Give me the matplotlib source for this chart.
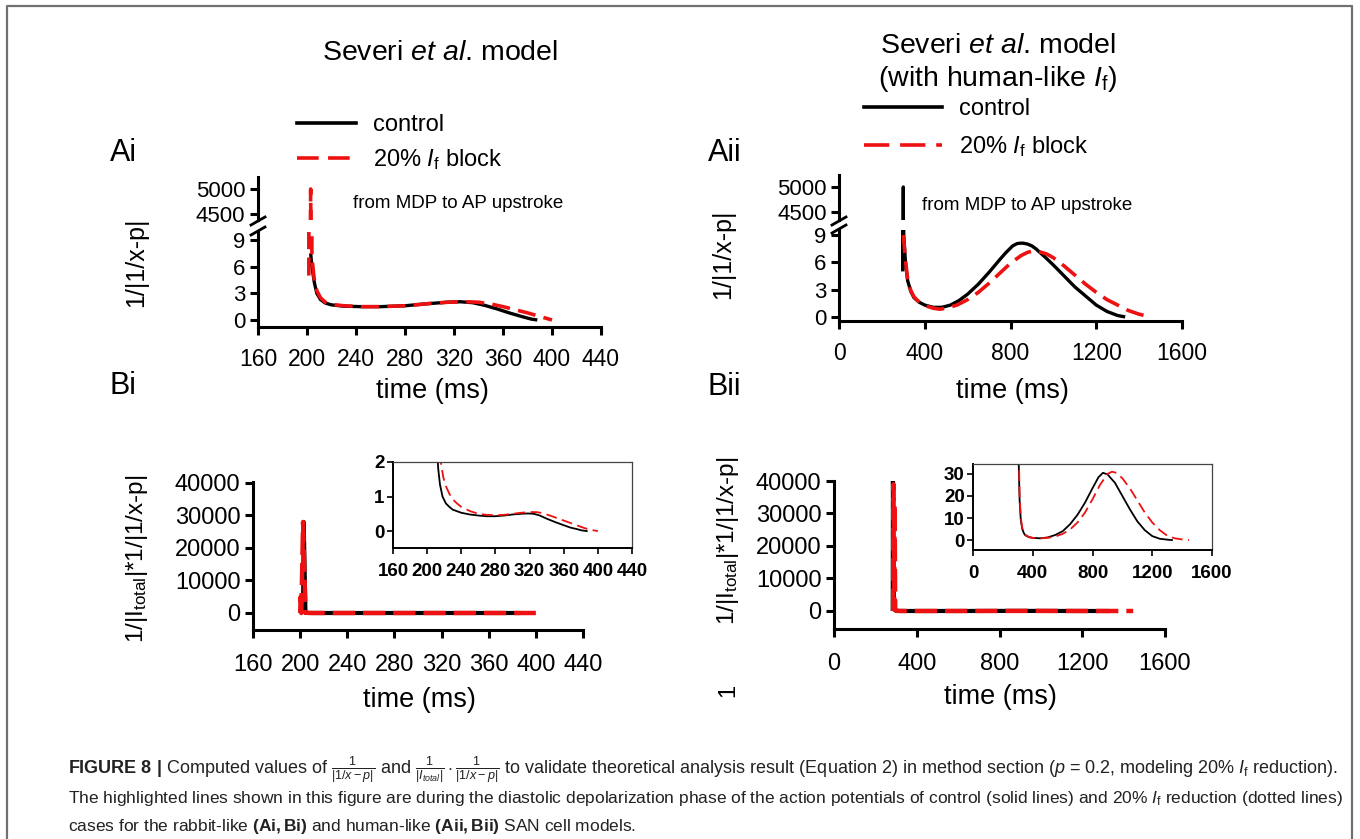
import matplotlib.pyplot as plt
from matplotlib.lines import Line2D

plt.rcParams['font.family'] = ['Liberation Sans', 'DejaVu Sans']
plt.rcParams['mathtext.fontset'] = 'custom'
plt.rcParams['mathtext.rm'] = 'Liberation Sans'
plt.rcParams['mathtext.it'] = 'Liberation Sans:italic'
plt.rcParams['mathtext.bf'] = 'Liberation Sans:bold'

# ---------------------------------------------------------------------------
# data
# ---------------------------------------------------------------------------
# Ai : rabbit-like model, 1/|1/x-p|
ai_ctrl_t = [203, 204, 206, 208, 211, 215, 220, 230, 245, 260, 280, 300, 315, 325,
             335, 345, 355, 365, 375, 383, 388]
ai_ctrl_v = [7.5, 6.0, 4.2, 3.0, 2.3, 1.9, 1.7, 1.55, 1.5, 1.5, 1.6, 1.85, 2.0, 2.05,
             1.95, 1.65, 1.25, 0.8, 0.4, 0.1, 0.0]
ai_blk_t = [201.5, 203, 204, 206, 208, 211, 215, 220, 230, 245, 260, 280, 300, 315,
            330, 340, 350, 360, 370, 380, 390, 400]
ai_blk_v = [5.0, 5000, 7.0, 4.5, 3.3, 2.5, 2.0, 1.75, 1.6, 1.5, 1.5, 1.6, 1.85, 2.0,
            2.05, 2.0, 1.8, 1.5, 1.15, 0.8, 0.4, 0.0]

# Aii : human-like model, 1/|1/x-p|
aii_ctrl_t = [297, 300, 302, 310, 320, 335, 350, 375, 400, 440, 480, 520, 560, 600,
              650, 700, 750, 780, 810, 830, 845, 860, 880, 900, 920, 960, 1000, 1050,
              1100, 1150, 1200, 1250, 1300, 1335]
aii_ctrl_v = [5.0, 5000, 9.0, 6.0, 4.0, 2.8, 2.1, 1.6, 1.3, 1.05, 1.05, 1.3, 1.8, 2.5,
              3.6, 4.9, 6.3, 7.1, 7.8, 8.05, 8.1, 8.1, 8.0, 7.8, 7.45, 6.6, 5.7, 4.5,
              3.3, 2.3, 1.3, 0.6, 0.15, 0.0]
aii_blk_t = [300, 310, 320, 335, 350, 375, 400, 440, 470, 500, 550, 600, 650, 700,
             750, 800, 850, 880, 905, 930, 970, 1000, 1050, 1100, 1150, 1200, 1250,
             1300, 1350, 1400, 1450]
aii_blk_v = [9.0, 6.2, 4.2, 2.9, 2.2, 1.6, 1.25, 0.95, 0.85, 0.95, 1.3, 1.9, 2.7, 3.7,
             4.8, 5.9, 6.75, 7.1, 7.25, 7.2, 6.9, 6.5, 5.6, 4.6, 3.6, 2.7, 1.9,
             1.3, 0.7, 0.3, 0.0]

# Bi : rabbit-like model, 1/|Itotal| * 1/|1/x-p|
bi_ctrl_t = [202.5, 203, 204.5, 208, 211, 213, 215, 218, 222, 226, 230, 240, 250, 260,
             270, 280, 290, 300, 310, 318, 325, 332, 340, 350, 360, 368, 375, 381, 387]
bi_ctrl_v = [0, 28000, 50, 6, 2.6, 1.8, 1.35, 1.0, 0.8, 0.7, 0.62, 0.53, 0.48, 0.45,
             0.43, 0.43, 0.45, 0.48, 0.5, 0.51, 0.5, 0.45, 0.36, 0.26, 0.17, 0.1,
             0.06, 0.02, 0.0]
bi_blk_t = [200, 200.5, 201, 202.5, 204.5, 210, 214, 216, 219, 222, 226, 230, 235,
            240, 250, 260, 270, 280, 290, 300, 310, 320, 328, 335, 345, 355, 365, 375,
            385, 393, 400]
bi_blk_v = [0, 5000, 0, 28000, 60, 6, 2.7, 2.0, 1.55, 1.3, 1.08, 0.92, 0.8, 0.7,
            0.58, 0.5, 0.47, 0.46, 0.47, 0.5, 0.53, 0.55, 0.55, 0.52, 0.44, 0.35, 0.26,
            0.17, 0.08, 0.03, 0.0]

# Bii : human-like model, 1/|Itotal| * 1/|1/x-p|
bii_ctrl_t = [284, 285, 290, 300, 306, 312, 320, 330, 340, 350, 375, 400, 450, 500,
              550, 600, 650, 700, 750, 800, 840, 870, 900, 950, 1000, 1050, 1100, 1150,
              1200, 1250, 1300, 1332]
bii_ctrl_v = [0, 40000, 500, 80, 35, 18, 9, 5, 3.2, 2.2, 1.3, 1.0, 0.8, 1.2,
              2.3, 4.0, 7.2, 11.5, 17, 23.5, 28.5, 30.5, 29.8, 26, 20, 14, 8.5, 4.5,
              1.8, 0.6, 0.2, 0]
bii_blk_t = [286, 288, 291, 293, 296, 300, 305, 312, 320, 330, 340, 350, 375, 400,
             450, 500, 550, 600, 650, 700, 750, 800, 850, 900, 930, 960, 1000, 1050,
             1100, 1150, 1200, 1250, 1300, 1350, 1400, 1446]
bii_blk_v = [0, 39000, 500, 33000, 300, 100, 45, 20, 10, 5.5, 3.5, 2.4, 1.4, 1.0,
             0.8, 1.0, 1.6, 2.8, 4.8, 8.0, 12.5, 18.5, 25, 30, 31, 30.5, 28, 23.5,
             18, 12.5, 8, 4.5, 2.0, 0.8, 0.3, 0]

ai_xticks = [160, 200, 240, 280, 320, 360, 400, 440]
aii_xticks = [0, 400, 800, 1200, 1600]
lo_yticks = [0, 3, 6, 9]
up_yticks = [4500, 5000]
b_yticks = [0, 10000, 20000, 30000, 40000]
bi_in_yticks = [0, 1, 2]
bii_in_yticks = [0, 10, 20, 30]

# ---------------------------------------------------------------------------
W, H = 1360, 839
fig = plt.figure(figsize=(W / 100, H / 100), dpi=100)

RED = '#ee1111'
DASH = (0, (5, 2.3))


def box(l, t, r, b):
    # pixel box -> figure fraction rect
    return [l / W, 1 - b / H, (r - l) / W, (b - t) / H]


def fig_line(xs, ys, **kw):
    fig.add_artist(Line2D([x / W for x in xs], [1 - y / H for y in ys],
                          transform=fig.transFigure, **kw))


def fig_text(x, y, s, **kw):
    fig.text(x / W, 1 - y / H, s, **kw)


def main_style(ax, spines=('left', 'bottom')):
    for side in ['left', 'right', 'top', 'bottom']:
        ax.spines[side].set_visible(side in spines)
        ax.spines[side].set_linewidth(2.2)
    ax.tick_params(direction='out', length=6, width=2.2)
    ax.patch.set_alpha(0)


def peak_index(v):
    # start of the trace after the upstroke spike (used for the zoomed insets)
    return max(range(len(v)), key=lambda i: v[i] if v[i] > 1000 else -1)


def broken_panel(left, right, up_tb, lo_tb, xlim, up_ylim, lo_ylim, xticks,
                 ct, cv, bt, bv):
    ax_up = fig.add_axes(box(left, up_tb[0], right, up_tb[1]))
    ax_lo = fig.add_axes(box(left, lo_tb[0], right, lo_tb[1]))
    for ax, ylim in [(ax_up, up_ylim), (ax_lo, lo_ylim)]:
        ax.plot(ct, cv, color='black', lw=2.4, solid_capstyle='butt')
        ax.plot(bt, bv, color=RED, lw=2.6, linestyle=DASH)
        ax.set_xlim(xlim)
        ax.set_ylim(ylim)
    main_style(ax_up, spines=('left',))
    main_style(ax_lo)
    ax_up.set_xticks([])
    ax_up.set_yticks(up_yticks)
    ax_lo.set_yticks(lo_yticks)
    ax_lo.set_xticks(xticks)
    ax_up.tick_params(axis='y', labelsize=16, pad=3)
    ax_lo.tick_params(axis='y', labelsize=16, pad=3)
    ax_lo.tick_params(axis='x', labelsize=16.5, pad=9)
    # break marks on the y axis
    for yb in (up_tb[1] + 1, lo_tb[0] - 1):
        fig_line([left - 7, left + 7], [yb + 4, yb - 4], color='black', lw=2.0)
    return ax_up, ax_lo


def b_panel(mbox, ibox, xlim, main_ylim, in_ylim, xticks, in_yticks,
            ct, cv, bt, bv):
    ax = fig.add_axes(box(*mbox))
    ax.plot(ct, cv, color='black', lw=3.0, solid_capstyle='butt')
    ax.plot(bt, bv, color=RED, lw=3.2, linestyle=(0, (5, 1.8)))
    ax.set_xlim(xlim)
    ax.set_ylim(main_ylim)
    main_style(ax)
    ax.set_xticks(xticks)
    ax.set_yticks(b_yticks)
    ax.tick_params(axis='x', labelsize=17, pad=11)
    ax.tick_params(axis='y', labelsize=17, pad=3)

    ins = fig.add_axes(box(*ibox))
    ic, ib = peak_index(cv), peak_index(bv)
    ins.plot(ct[ic:], cv[ic:], color='black', lw=1.3)
    ins.plot(bt[ib:], bv[ib:], color=RED, lw=1.3, linestyle=(0, (6, 3)))
    ins.set_xlim(xlim)
    ins.set_ylim(in_ylim)
    for side in ['left', 'bottom']:
        ins.spines[side].set_linewidth(1.4)
    for side in ['top', 'right']:
        ins.spines[side].set_linewidth(0.9)
        ins.spines[side].set_color('#444444')
    ins.set_xticks(xticks, [str(v) for v in xticks], fontweight='bold')
    ins.set_yticks(in_yticks, [str(v) for v in in_yticks], fontweight='bold')
    ins.tick_params(direction='out', length=4, width=1.2, labelsize=13.5)
    ins.tick_params(axis='x', pad=7)
    ins.tick_params(axis='y', pad=2)
    return ax, ins


# ---------------------------------------------------------------------------
# Ai
ai_up, ai_lo = broken_panel(258, 601, (177, 220), (232, 327), (160, 440),
                            (4380, 5240), (-0.79, 9.9), ai_xticks,
                            ai_ctrl_t, ai_ctrl_v, ai_blk_t, ai_blk_v)
# Aii
aii_up, aii_lo = broken_panel(839, 1182, (175, 220), (230, 321), (0, 1600),
                              (4340, 5240), (-0.45, 9.55), aii_xticks,
                              aii_ctrl_t, aii_ctrl_v, aii_blk_t, aii_blk_v)
# Bi
b_panel((253, 482, 583, 630), (393, 462, 632, 548), (160, 440),
        (-5230, 40300), (-0.49, 2.0), ai_xticks, bi_in_yticks,
        bi_ctrl_t, bi_ctrl_v, bi_blk_t, bi_blk_v)
# Bii
b_panel((834, 481, 1165, 629), (973, 464, 1212, 550), (0, 1600),
        (-5540, 40000), (-4.5, 34.5), aii_xticks, bii_in_yticks,
        bii_ctrl_t, bii_ctrl_v, bii_blk_t, bii_blk_v)

# legends
ai_lo.legend(handles=[Line2D([], [], color='black', lw=2.6),
                      Line2D([], [], color=RED, lw=2.6, linestyle=(0, (6, 2.6)))],
             labels=['control', r'20% $I_{\mathrm{f}}$ block'],
             loc='upper left', bbox_to_anchor=(276 / W, 1 - 93 / H),
             bbox_transform=fig.transFigure, frameon=False, fontsize=17,
             handlelength=2.5, handletextpad=0.7, labelspacing=0.45)
aii_lo.legend(handles=[Line2D([], [], color='black', lw=2.6),
                       Line2D([], [], color=RED, lw=2.6, linestyle=(0, (7, 3)))],
              labels=['control', r'20% $I_{\mathrm{f}}$ block'],
              loc='upper left', bbox_to_anchor=(843 / W, 1 - 77 / H),
              bbox_transform=fig.transFigure, frameon=False, fontsize=17,
              handlelength=3.3, handletextpad=0.7, labelspacing=0.6)

# titles, panel letters, annotations
fig_text(440, 53, r'Severi $\mathit{et\ al}$. model', fontsize=20.5, ha='center', va='center')
fig_text(998, 46, r'Severi $\mathit{et\ al}$. model', fontsize=20.5, ha='center', va='center')
fig_text(998, 79, r'(with human-like $I_{\mathrm{f}}$)', fontsize=20.5, ha='center', va='center')
fig_text(110, 153, 'Ai', fontsize=22, va='center')
fig_text(110, 386, 'Bi', fontsize=22, va='center')
fig_text(708, 153, 'Aii', fontsize=22, va='center')
fig_text(708, 387, 'Bii', fontsize=22, va='center')
fig_text(353, 204, 'from MDP to AP upstroke', fontsize=13.5, va='center')
fig_text(922, 206, 'from MDP to AP upstroke', fontsize=13.5, va='center')

# axis labels
for x, y in [(432, 391), (1012, 391), (419, 700), (1000, 697)]:
    fig_text(x, y, 'time (ms)', fontsize=19.5, ha='center', va='center')
fig_text(136, 262, '1/|1/x-p|', fontsize=18, rotation=90, ha='center', va='center')
fig_text(723, 254, '1/|1/x-p|', fontsize=18, rotation=90, ha='center', va='center')
ylab_b = r'1/|I$_{\mathrm{total}}$|*1/|1/x-p|'
fig_text(137, 559, ylab_b, fontsize=17.5, rotation=90, ha='center', va='center')
fig_text(728, 541, ylab_b, fontsize=17.5, rotation=90, ha='center', va='center')
fig_text(728, 690, '1', fontsize=17, rotation=90, ha='center', va='center')

# frame
fig_line([7, 7, 1352, 1352], [845, 6, 6, 845], color='#707070', lw=1.6)

# caption
cap1 = (r'$\mathbf{FIGURE\ 8\ |}$ Computed values of $\frac{1}{|1/x-p|}$ and '
        r'$\frac{1}{|I_{total}|}\cdot\frac{1}{|1/x-p|}$ to validate theoretical analysis '
        r'result (Equation 2) in method section ($p$ = 0.2, modeling 20% $I_{\mathrm{f}}$ reduction).')
cap2 = (r'The highlighted lines shown in this figure are during the diastolic depolarization '
        r'phase of the action potentials of control (solid lines) and 20% $I_{\mathrm{f}}$ '
        r'reduction (dotted lines)')
cap3 = (r'cases for the rabbit-like $\mathbf{(Ai,Bi)}$ and human-like $\mathbf{(Aii,Bii)}$ '
        r'SAN cell models.')
fig_text(68, 770, cap1, fontsize=13.0, va='center', color='#222222')
fig_text(68, 799, cap2, fontsize=12.5, va='center', color='#222222')
fig_text(68, 826, cap3, fontsize=12.5, va='center', color='#222222')

plt.savefig('out.png', dpi=100)
